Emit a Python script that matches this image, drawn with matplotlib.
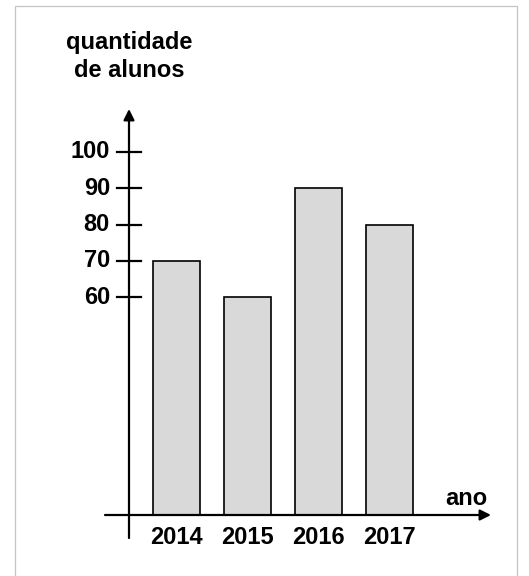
import matplotlib.pyplot as plt
from matplotlib.patches import Rectangle

# dados
anos = ['2014', '2015', '2016', '2017']
alunos = [70, 60, 90, 80]
ticks_y = [60, 70, 80, 90, 100]

W, H = 529, 576
X0, DX = 176, 71      # centro da primeira barra e espaçamento (px)
Y0, DY = 515, 3.63    # linha do eixo x e px por aluno


def px(x):
    return (x - X0) / DX


def py(y):
    return (Y0 - y) / DY


plt.rcParams['font.family'] = ['Liberation Sans', 'DejaVu Sans']
plt.rcParams['font.weight'] = 'bold'
fs = 17

fig = plt.figure(figsize=(W / 100, H / 100), dpi=100)
ax = fig.add_axes([0, 0, 1, 1])
ax.set_xlim(px(0), px(W))
ax.set_ylim(py(H), py(0))
ax.axis('off')

# moldura cinza
fig.patches.append(Rectangle((15 / W, -0.01), (517 - 15) / W, (H - 6) / H + 0.01,
                             transform=fig.transFigure, fill=False,
                             edgecolor='#c4c4c4', lw=0.9))

# barras
ax.bar(range(len(anos)), alunos, width=47 / DX, color='#d9d9d9',
       edgecolor='black', linewidth=1.2, zorder=2)

arrow = dict(arrowstyle='-|>', lw=1.6, color='black', mutation_scale=16,
             shrinkA=0, shrinkB=0)
# eixo y
ax.annotate('', xy=(px(129), py(109)), xytext=(px(129), py(538)), arrowprops=arrow)
# eixo x
ax.annotate('', xy=(px(491), 0), xytext=(px(105), 0), arrowprops=arrow)

for v in ticks_y:
    ax.plot([px(117), px(141)], [v, v], color='black', lw=1.6)
    ax.text(px(110), v, str(v), ha='right', va='center', fontsize=fs)

for i, a in enumerate(anos):
    ax.text(i, py(538), a, ha='center', va='center', fontsize=fs)

ax.text(px(466), py(505), 'ano', ha='center', va='baseline', fontsize=fs)
ax.text(px(129), py(49), 'quantidade', ha='center', va='baseline', fontsize=fs)
ax.text(px(129), py(77), 'de alunos', ha='center', va='baseline', fontsize=fs)

fig.savefig('out.png', dpi=100)
